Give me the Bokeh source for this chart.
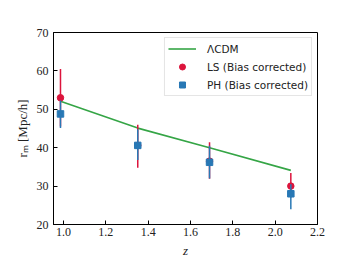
from bokeh.plotting import figure
from bokeh.models import Range1d, FixedTicker, PrintfTickFormatter, Legend, LegendItem, ColumnDataSource
from bokeh.embed import file_html
from bokeh.resources import INLINE

# data
z = [0.986, 1.351, 1.69, 2.074]
lcdm = [52.1, 45.1, 40.0, 34.1]
ls_val = [53.0, 40.6, 36.5, 30.0]
ls_lo = [45.5, 34.8, 31.9, 27.0]
ls_hi = [60.5, 46.0, 41.4, 33.4]
ph_val = [48.8, 40.6, 36.2, 28.0]
ph_lo = [45.1, 36.8, 32.0, 24.0]
ph_hi = [52.3, 44.8, 40.5, 30.5]
x_ticks = [1.0, 1.2, 1.4, 1.6, 1.8, 2.0, 2.2]
y_ticks = [20, 30, 40, 50, 60, 70]

RED = "#dc143c"
BLUE = "#2878b5"
GREEN = "#35a546"

p = figure(frame_width=264, frame_height=192, output_backend="svg", toolbar_location=None,
           x_range=Range1d(0.953, 2.2), y_range=Range1d(20, 70),
           min_border_left=53, min_border_right=35, min_border_top=32, min_border_bottom=40)
p.grid.visible = False
p.outline_line_color = "black"
p.outline_line_width = 1

for ax in (p.xaxis, p.yaxis):
    ax.major_tick_in = 4
    ax.major_tick_out = 0
    ax.minor_tick_line_color = None
    ax.axis_line_color = "black"
    ax.major_tick_line_color = "black"
    ax.major_label_text_font = "Liberation Serif"
    ax.major_label_text_font_size = "12px"
    ax.major_label_text_color = "#222222"
    ax.axis_label_text_font = "Liberation Serif"
    ax.axis_label_text_font_size = "13px"
    ax.axis_label_text_font_style = "normal"
    ax.axis_label_text_color = "#222222"

p.xaxis.ticker = FixedTicker(ticks=x_ticks)
p.xaxis.formatter = PrintfTickFormatter(format="%.1f")
p.xaxis.major_label_standoff = 3
p.yaxis.ticker = FixedTicker(ticks=y_ticks)
p.yaxis.major_label_standoff = 5
p.xaxis.axis_label = "z"
p.xaxis.axis_label_text_font_style = "italic"
p.xaxis.axis_label_standoff = 4
p.yaxis.axis_label = "rₘ [Mpc/h]"
p.yaxis.axis_label_standoff = 4

src_ls = ColumnDataSource(dict(z=z, v=ls_val, lo=ls_lo, hi=ls_hi))
src_ph = ColumnDataSource(dict(z=z, v=ph_val, lo=ph_lo, hi=ph_hi))

r_l = p.line(z, lcdm, line_color=GREEN, line_width=1.6)
p.segment(x0="z", y0="lo", x1="z", y1="hi", source=src_ls, line_color=RED, line_width=1.5)
r_ls = p.scatter(x="z", y="v", source=src_ls, marker="circle", size=6.5, fill_color=RED, line_color=RED)
p.segment(x0="z", y0="lo", x1="z", y1="hi", source=src_ph, line_color=BLUE, line_width=1.5)
r_ph = p.scatter(x="z", y="v", source=src_ph, marker="square", size=6.5, fill_color=BLUE, line_color=BLUE)

legend = Legend(items=[
    LegendItem(label="ΛCDM", renderers=[r_l]),
    LegendItem(label="LS (Bias corrected)", renderers=[r_ls]),
    LegendItem(label="PH (Bias corrected)", renderers=[r_ph]),
], location="top_right")
legend.label_text_font = "DejaVu Sans"
legend.label_text_font_size = "10.5px"
legend.label_text_color = "#222222"
legend.glyph_width = 28
legend.glyph_height = 15
legend.label_height = 15
legend.spacing = 3
legend.padding = 3
legend.margin = 5
legend.label_standoff = 11
legend.border_line_color = "#cccccc"
legend.border_line_width = 1
legend.background_fill_alpha = 1.0
p.add_layout(legend)

open("out.html", "w").write(file_html(p, INLINE))
